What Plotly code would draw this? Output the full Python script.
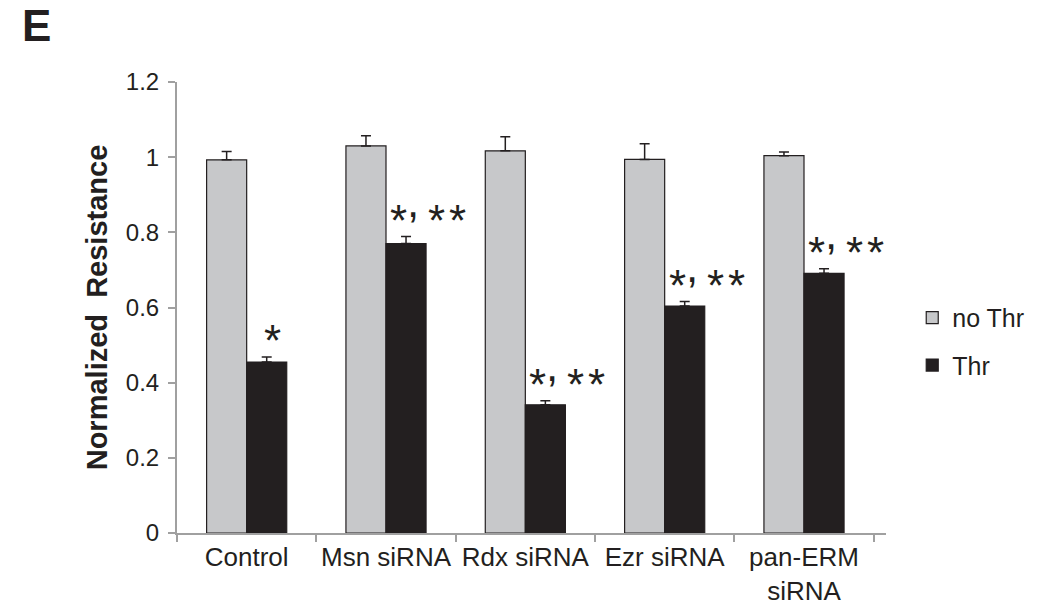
import plotly.graph_objects as go

categories = ["Control", "Msn siRNA", "Rdx siRNA", "Ezr siRNA", "pan-ERM<br>siRNA"]
no_thr = [0.993, 1.030, 1.017, 0.994, 1.004]
no_thr_err = [0.022, 0.027, 0.037, 0.042, 0.010]
thr = [0.455, 0.770, 0.341, 0.604, 0.691]
thr_err = [0.013, 0.019, 0.011, 0.012, 0.012]
sig_labels = ["*", "*, **", "*, **", "*, **", "*, **"]
y_ticks = [0, 0.2, 0.4, 0.6, 0.8, 1, 1.2]
y_ticktext = ["0", "0.2", "0.4", "0.6", "0.8", "1", "1.2"]

GRAY = "#c7c8ca"
BLACK = "#231f20"
AXIS = "#a0a0a0"
FONT = "Liberation Sans"

fig = go.Figure()
fig.add_trace(go.Bar(
    x=categories, y=no_thr, name="no Thr",
    marker=dict(color=GRAY, line=dict(color=BLACK, width=1.2)),
    error_y=dict(type="data", array=no_thr_err, symmetric=False, arrayminus=[0]*5,
                 color=BLACK, thickness=1.5, width=5),
    legendgroup="a",
))
fig.add_trace(go.Bar(
    x=categories, y=thr, name="Thr",
    marker=dict(color=BLACK, line=dict(color=BLACK, width=1.2)),
    error_y=dict(type="data", array=thr_err, symmetric=False, arrayminus=[0]*5,
                 color=BLACK, thickness=1.5, width=5),
    legendgroup="b",
))

star_font = dict(family=FONT, size=44, color=BLACK)
for cat, v, e, lab in zip(categories, thr, thr_err, sig_labels):
    top = v + e
    if lab == "*":
        fig.add_annotation(x=cat, y=top, text=lab, showarrow=False,
                           xanchor="center", yanchor="middle", xshift=26, yshift=17,
                           font=star_font)
    else:
        first, rest = lab.split(", ")
        # first asterisk, raised comma, then the double asterisk (wide spacing)
        fig.add_annotation(x=cat, y=top, text=first, showarrow=False,
                           xanchor="left", yanchor="middle", xshift=2, yshift=16,
                           font=star_font)
        fig.add_annotation(x=cat, y=top, text=",", showarrow=False,
                           xanchor="left", yanchor="middle", xshift=19, yshift=35,
                           font=star_font)
        for j, ch in enumerate(rest):
            fig.add_annotation(x=cat, y=top, text=ch, showarrow=False,
                               xanchor="left", yanchor="middle", xshift=40 + 21 * j,
                               yshift=16, font=star_font)

fig.add_annotation(x=-0.222, y=1.125, xref="paper", yref="paper", text="<b>E</b>",
                   showarrow=False, xanchor="left", yanchor="middle",
                   font=dict(family=FONT, size=44, color=BLACK))

fig.update_layout(
    width=1041, height=613,
    margin=dict(l=177, r=146, t=82, b=80),
    paper_bgcolor="white", plot_bgcolor="white",
    barmode="group", bargap=0.425, bargroupgap=0,
    font=dict(family=FONT, size=26, color=BLACK),
    showlegend=True,
    legend=dict(x=1.037, y=0.425, xanchor="left", yanchor="middle",
                font=dict(size=25, color=BLACK), tracegroupgap=12,
                bgcolor="rgba(0,0,0,0)"),
    xaxis=dict(showline=True, linecolor=AXIS, linewidth=2,
               ticks="outside", tickcolor=AXIS, ticklen=7, tickwidth=1.5,
               tickson="boundaries", showgrid=False, tickangle=0, automargin=False,
               tickfont=dict(size=26, color=BLACK)),
    yaxis=dict(range=[0, 1.2], tickvals=y_ticks, ticktext=y_ticktext,
               showline=True, linecolor=AXIS, linewidth=2,
               ticks="outside", tickcolor=AXIS, ticklen=7, tickwidth=1.5,
               showgrid=False, zeroline=False, ticklabelstandoff=4,
               tickfont=dict(size=24, color=BLACK),
               title=dict(text="<b>Normalized  Resistance</b>", standoff=10,
                          font=dict(size=29, color=BLACK))),
)

fig.write_html("out.html")
